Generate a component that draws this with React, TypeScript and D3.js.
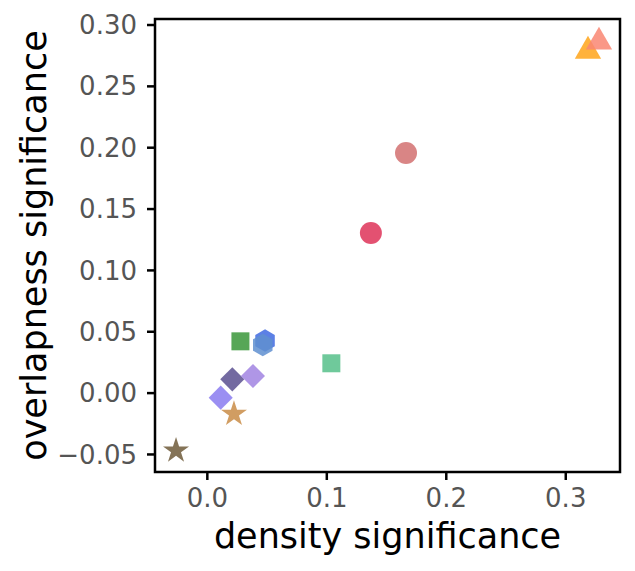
import React from "react";
import * as d3 from "d3";

const names = ["A", "B", "C", "D", "E", "F", "G", "H", "I", "J", "K", "L", "M"];
const densitySig = [0.3186, 0.3278, 0.1663, 0.1369, 0.0277, 0.0483, 0.0464, 0.1038, 0.0209, 0.0382, 0.0112, 0.0223, -0.0262];
const overlapSig = [0.2804, 0.2878, 0.1957, 0.1305, 0.0422, 0.0428, 0.0392, 0.0243, 0.0112, 0.0139, -0.0037, -0.017, -0.0469];
const shapes = ["triangle", "triangle", "circle", "circle", "square", "hexagon", "hexagon", "square", "diamond", "diamond", "diamond", "star", "star"];
const colors = ["#ffa41a", "#f98672", "#d27070", "#de3258", "#3a963a", "#3f6ae0", "#5f8fd0", "#56c08a", "#5a5090", "#a184e2", "#8a7bf0", "#c98c46", "#6f5a3a"];
const xTicks = [0.0, 0.1, 0.2, 0.3];
const yTicks = [-0.05, 0.0, 0.05, 0.1, 0.15, 0.2, 0.25, 0.3];

const W = 635, H = 571;
const L = 155, R = 620, T = 19, B = 472;

const hexagon: d3.SymbolType = {
  draw(ctx, size) {
    const r = Math.sqrt((2 * size) / (3 * Math.sqrt(3)));
    for (let i = 0; i < 6; i++) {
      const a = -Math.PI / 2 + (i * Math.PI) / 3;
      const px = r * Math.cos(a), py = r * Math.sin(a);
      if (i === 0) ctx.moveTo(px, py); else ctx.lineTo(px, py);
    }
    ctx.closePath();
  },
};

export default function App() {
  const x = d3.scaleLinear().domain([-0.0438, 0.3454]).range([L, R]);
  const y = d3.scaleLinear().domain([-0.0643, 0.3049]).range([B, T]);

  const symFor = (s: string) => {
    switch (s) {
      case "triangle": return { p: d3.symbol(d3.symbolTriangle, 300)(), rot: 0 };
      case "circle": return { p: d3.symbol(d3.symbolCircle, 380)(), rot: 0 };
      case "square": return { p: d3.symbol(d3.symbolSquare, 324)(), rot: 0 };
      case "diamond": return { p: d3.symbol(d3.symbolSquare, 290)(), rot: 45 };
      case "star": return { p: d3.symbol(d3.symbolStar, 210)(), rot: 0 };
      case "hexagon": return { p: d3.symbol(hexagon, 330)(), rot: 0 };
    }
    return { p: d3.symbol(d3.symbolCircle, 300)(), rot: 0 };
  };

  const font = "DejaVu Sans, sans-serif";
  return (
    <div style={{ position: "absolute", left: 0, top: 0 }}>
      <svg width={W} height={H} style={{ display: "block", background: "#fff" }}>
        <rect x={0} y={0} width={W} height={H} fill="#fff" />
        {names.map((n, i) => {
          const s = symFor(shapes[i]);
          const cy = shapes[i] === "triangle" ? y(overlapSig[i]) + 2 : y(overlapSig[i]);
          return (
            <path
              key={n}
              d={s.p as string}
              transform={`translate(${x(densitySig[i])},${cy}) rotate(${s.rot})`}
              fill={colors[i]}
              fillOpacity={0.85}
            />
          );
        })}
        <rect x={L} y={T} width={R - L} height={B - T} fill="none" stroke="#000" strokeWidth={2.5} />
        {xTicks.map((t) => (
          <g key={"x" + t}>
            <line x1={x(t)} x2={x(t)} y1={B} y2={B + 8} stroke="#000" strokeWidth={2.5} />
            <text x={x(t)} y={B + 35} textAnchor="middle" fontFamily={font} fontSize={26} fill="#555">
              {d3.format(".1f")(t)}
            </text>
          </g>
        ))}
        {yTicks.map((t) => (
          <g key={"y" + t}>
            <line x1={L - 8} x2={L} y1={y(t)} y2={y(t)} stroke="#000" strokeWidth={2.5} />
            <text x={L - 18} y={y(t)} dy="0.35em" textAnchor="end" fontFamily={font} fontSize={26} fill="#555">
              {t < 0 ? "\u2212" + d3.format(".2f")(-t) : d3.format(".2f")(t)}
            </text>
          </g>
        ))}
        <text x={(L + R) / 2} y={548} textAnchor="middle" fontFamily={font} fontSize={35} fill="#000">
          density significance
        </text>
        <text
          transform={`translate(46,${(T + B) / 2}) rotate(-90)`}
          textAnchor="middle"
          fontFamily={font}
          fontSize={35}
          fill="#000"
        >
          overlapness significance
        </text>
      </svg>
    </div>
  );
}
